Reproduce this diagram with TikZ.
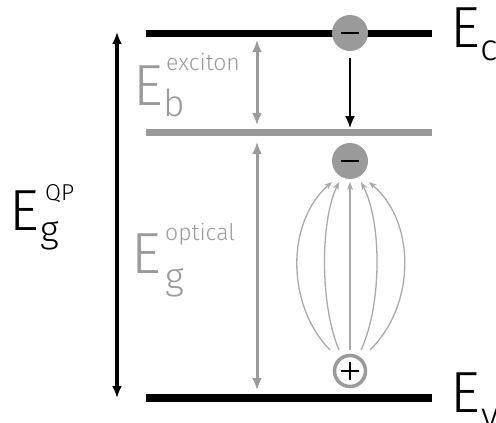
\documentclass[tikz,border=0pt]{standalone}
\usepackage{fontspec}
\setmainfont{Fira Sans}[UprightFont={* Light}]
\usetikzlibrary{arrows.meta}

\definecolor{lvgray}{HTML}{9A9A9A}

\tikzset{
  lvl/.style={line width=7pt},
  bigE/.style={anchor=base west, inner sep=0pt, font=\fontsize{58}{58}\selectfont},
  subtxt/.style={anchor=base west, inner sep=0pt, font=\fontsize{37}{37}\selectfont},
  suptxt/.style={anchor=base west, inner sep=0pt, font=\fontsize{23}{23}\selectfont},
  electron/.style={circle, fill=lvgray, minimum size=36pt, inner sep=0pt,
    path picture={\draw[line width=2.5pt]
      ([xshift=-9pt]path picture bounding box.center) -- ([xshift=9pt]path picture bounding box.center);}},
  hole/.style={circle, draw=lvgray, line width=3.5pt, fill=white, minimum size=31pt, inner sep=0pt,
    path picture={\draw[black, line width=2.5pt]
      ([xshift=-9pt]path picture bounding box.center) -- ([xshift=9pt]path picture bounding box.center)
      ([yshift=-9pt]path picture bounding box.center) -- ([yshift=9pt]path picture bounding box.center);}},
  gap/.style={{Latex[length=12pt,width=10pt]}-{Latex[length=12pt,width=10pt]}},
  field/.style={lvgray!85, line width=1.3pt, -{Stealth[length=8pt,width=6pt]}},
}

\begin{document}
\begin{tikzpicture}[x=1pt, y=-1pt]
  \useasboundingbox (0,0) rectangle (496,423);

  % Niveaus: Leitungsband, Exzitonniveau, Valenzband
  \coordinate (CL) at (146,33);  \coordinate (CR) at (432,33);
  \coordinate (XL) at (146,132); \coordinate (XR) at (432,132);
  \coordinate (VL) at (146,398); \coordinate (VR) at (432,398);
  \draw[lvl] (CL) -- (CR);
  \draw[lvl, lvgray] (XL) -- (XR);
  \draw[lvl, line width=8pt] (VL) -- (VR);

  % Ladungstraeger
  \node[electron] (e1) at (350,33) {};
  \node[electron] (e2) at (350,161) {};
  \node[hole]     (h)  at (350,371) {};

  % Relaxation ins Exzitonniveau
  \coordinate (xhit) at (350,128);
  \draw[line width=1.6pt, -{Latex[length=12pt,width=10pt]}] ([yshift=-7pt]e1.south) -- (xhit);

  % Feldlinien vom Loch zum Elektron
  \foreach \dx/\tx/\cx in {-20/-18/286, -11/-11/320, 0/0/350, 11/11/382, 20/19/416}
    \draw[field] ([shift={(\dx,-21)}]h.center)
      .. controls (\cx,305) and (\cx,222) .. ([shift={(\tx,21)}]e2.center);

  % Energieluecken
  \coordinate (qpT) at (117,32);  \coordinate (qpB) at (117,398);
  \draw[gap, line width=3.5pt] (qpT) -- (qpB);
  \coordinate (bT) at (257,40);   \coordinate (bB) at (257,125);
  \draw[gap, lvgray, line width=3pt] (bT) -- (bB);
  \coordinate (oT) at (257,142);  \coordinate (oB) at (257,390);
  \draw[gap, lvgray, line width=3pt] (oT) -- (oB);

  % Beschriftungen
  \node[bigE] (Ec) at (450,47) {E};
  \node[subtxt] (Ecs) at (480,60) {c};
  \node[bigE] (Ev) at (450,412) {E};
  \node[subtxt] (Evs) at (481,428) {v};

  \node[bigE] (Eqp) at (9,230) {E};
  \node[subtxt] (Eqps) at (40,242) {g};
  \node[suptxt] (Eqpu) at (45,200) {QP};

  \node[bigE, lvgray] (Eb) at (133,105) {E};
  \node[subtxt, lvgray] (Ebs) at (163,116) {b};
  \node[suptxt, lvgray] (Ebu) at (166,70) {exciton};

  \node[bigE, lvgray] (Eo) at (131,273) {E};
  \node[subtxt, lvgray] (Eos) at (165,289) {g};
  \node[suptxt, lvgray] (Eou) at (165,240) {optical};
\end{tikzpicture}
\end{document}
